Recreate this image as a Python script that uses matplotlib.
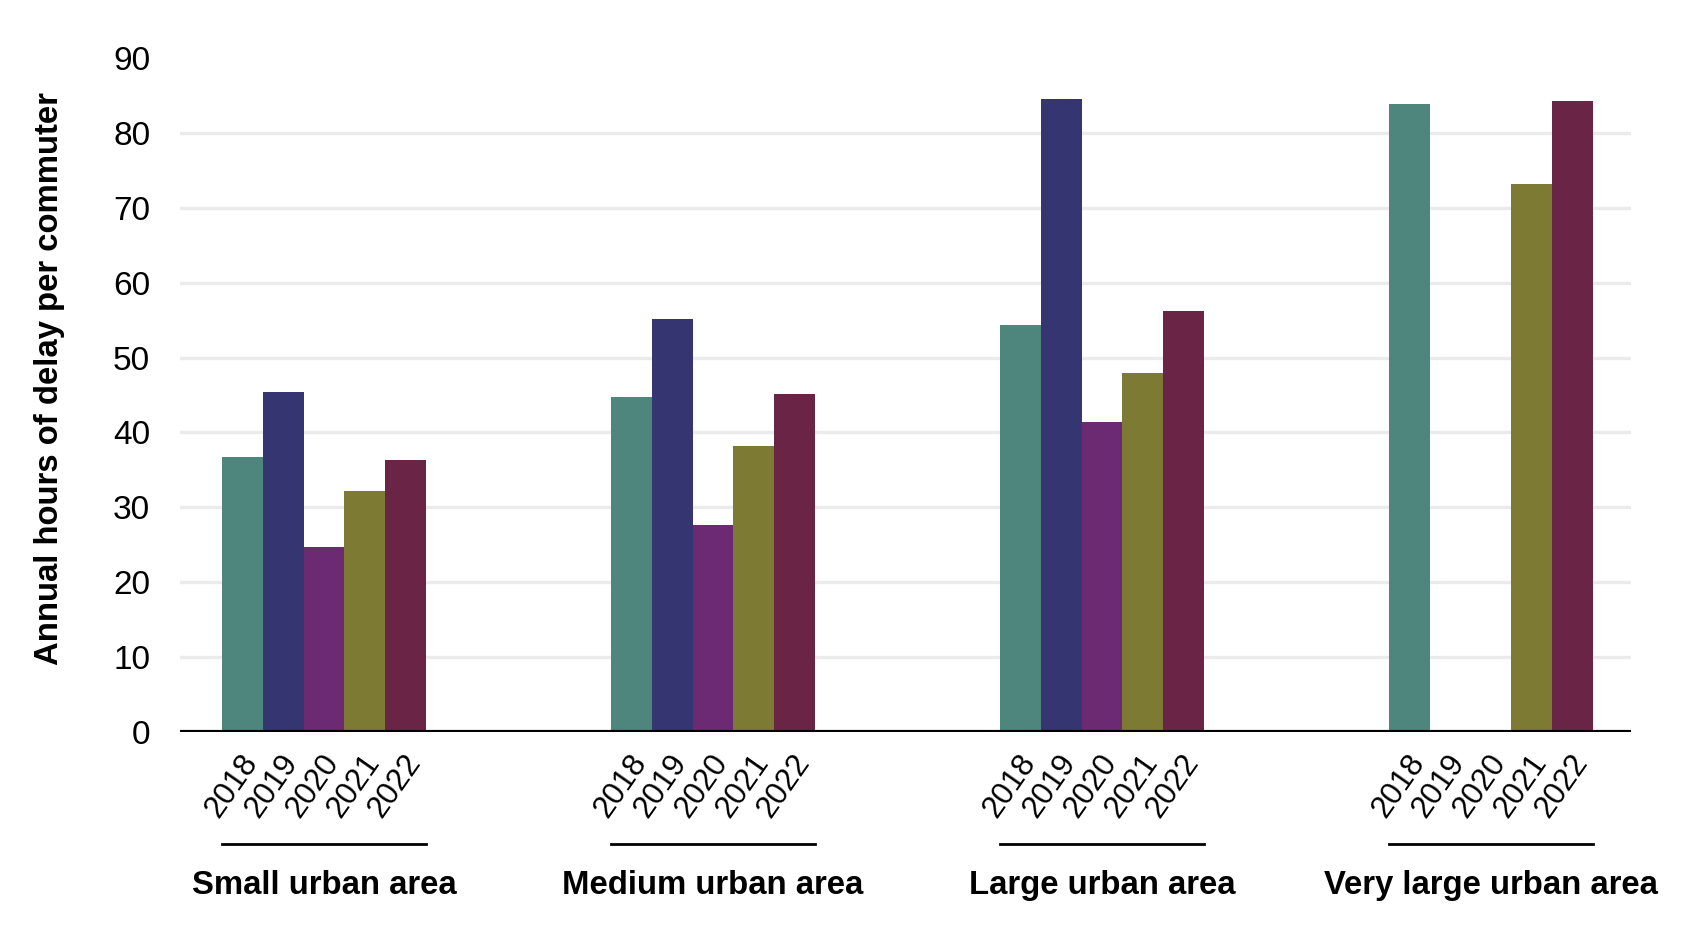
import matplotlib
matplotlib.use('Agg')
import matplotlib.pyplot as plt
import matplotlib.transforms as mtransforms
import numpy as np

plt.rcParams['font.family'] = ['Liberation Sans', 'DejaVu Sans']

areas = ["Small urban area", "Medium urban area", "Large urban area", "Very large urban area"]
years = ["2018", "2019", "2020", "2021", "2022"]
colors = ["#4e857d", "#343571", "#6c2a72", "#7c7a33", "#6a2445"]

# hours of delay per commuter, one list per year (nan = no bar)
delay_2018 = [36.7, 44.7, 54.3, 83.9]
delay_2019 = [45.4, 55.2, 84.5, np.nan]
delay_2020 = [24.7, 27.6, 41.4, np.nan]
delay_2021 = [32.2, 38.2, 48.0, 73.2]
delay_2022 = [36.3, 45.1, 56.2, 84.2]
series = [delay_2018, delay_2019, delay_2020, delay_2021, delay_2022]

fig = plt.figure(figsize=(17.02, 9.40), dpi=100)
ax = fig.add_axes([0.1058, 0.2213, 0.8525, 0.717])

w = 0.105
group_x = np.arange(len(areas))
tick_pos = []
tick_lab = []
for k, vals in enumerate(series):
    xs = group_x + (k - 2) * w
    ax.bar(xs, vals, width=w, color=colors[k], zorder=3)
    tick_pos.extend(xs)
    tick_lab.extend([years[k]] * len(areas))

ax.set_xlim(-0.37, 3.36)
ax.set_ylim(0, 90)
ax.set_yticks(range(0, 91, 10))
ax.tick_params(axis='y', length=0, pad=21.5, labelsize=24)
ax.yaxis.grid(True, color='#ebebeb', linewidth=2.4, zorder=0)
ax.get_ygridlines()[-1].set_visible(False)
ax.get_ygridlines()[0].set_visible(False)
ax.axhline(0, color='black', linewidth=3, zorder=4)
for s in ax.spines.values():
    s.set_visible(False)

ax.set_xticks(tick_pos)
ax.set_xticklabels(tick_lab, rotation=55, ha='right', va='center',
                   rotation_mode='anchor', fontsize=22.5)
ax.tick_params(axis='x', length=0, pad=18)
offset = mtransforms.ScaledTranslation(0.09, 0, fig.dpi_scale_trans)
for lab in ax.get_xticklabels():
    lab.set_transform(lab.get_transform() + offset)

trans = mtransforms.blended_transform_factory(ax.transData, ax.transAxes)
for g, name in zip(group_x, areas):
    ax.plot([g - 2.5 * w, g + 2.5 * w], [-0.1662, -0.1662], color='black',
            linewidth=2, transform=trans, clip_on=False)
    ax.text(g, -0.240, name, transform=trans, ha='center', va='baseline',
            fontsize=23.7, fontweight='bold')

fig.text(50 / 1702, 0.597, "Annual hours of delay per commuter", rotation=90,
         ha='center', va='center', fontsize=23.7, fontweight='bold')

fig.savefig("out.png", dpi=100)
